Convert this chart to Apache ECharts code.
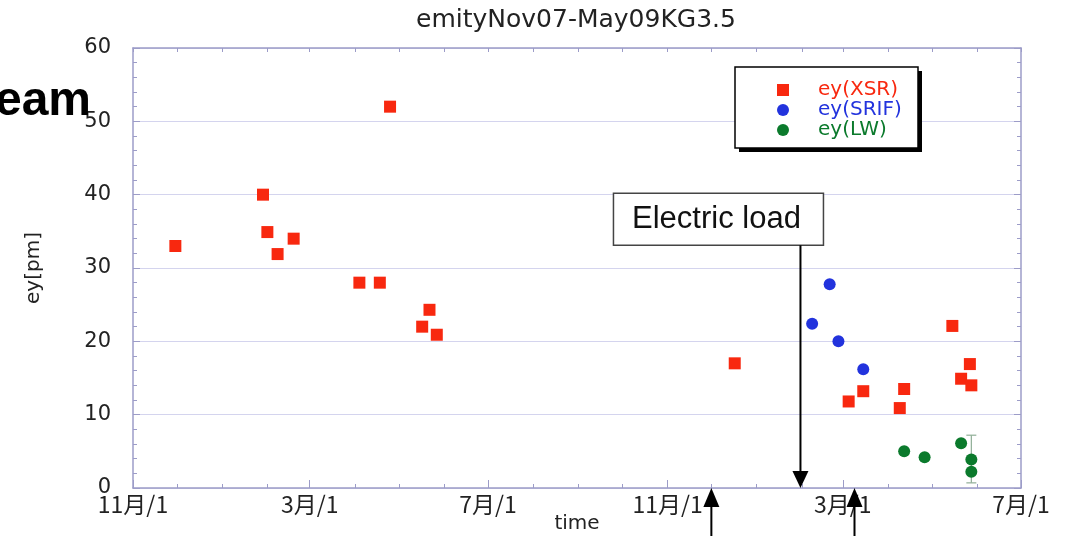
<!DOCTYPE html>
<html><head><meta charset="utf-8">
<script src="https://cdn.jsdelivr.net/npm/echarts@6/dist/echarts.min.js"></script>
<style>html,body{margin:0;padding:0;background:#fff}#c{width:1066px;height:536px}</style>
</head><body><div id="c"></div>
<script>
// ---- data ----
const titleText = 'emityNov07-May09KG3.5';
const xsrDates = ['2007-11-30','2008-01-29','2008-02-01','2008-02-08','2008-02-19','2008-04-04','2008-04-18','2008-04-25','2008-05-17','2008-05-22','2008-05-27','2008-12-17','2009-03-05','2009-03-15','2009-04-09','2009-04-12','2009-05-15','2009-05-21','2009-05-27','2009-05-28'];
const xsrValues = [33.0,40.0,34.9,31.9,34.0,28.0,28.0,52.0,22.0,24.3,20.9,17.0,11.8,13.2,10.9,13.5,22.1,14.9,16.9,14.0];
const srifDates = ['2009-02-08','2009-02-20','2009-02-26','2009-03-15'];
const srifValues = [22.4,27.8,20.0,16.2];
const lwDates = ['2009-04-12','2009-04-26','2009-05-21','2009-05-28','2009-05-28'];
const lwValues = [5.0,4.2,6.1,3.9,2.2];
const lwErrDate = ['2009-05-28'];
const lwErrLow = [0.7];
const lwErrHigh = [7.2];
const xTickDates = ['2007-11-01','2008-03-01','2008-07-01','2008-11-01','2009-03-01','2009-07-01'];
const xTickLabels = ['11月/1','3月/1','7月/1','11月/1','3月/1','7月/1'];
const yTicks = [0,10,20,30,40,50,60];
const seriesNames = ['ey(XSR)','ey(SRIF)','ey(LW)'];
const electricLoadDate = '2009-01-31';
const upArrowDates = ['2008-12-01','2009-03-09'];

// ---- helpers ----
function ts(s){const p=s.split('-').map(Number);return new Date(p[0],p[1]-1,p[2]).getTime();}
const xMin = ts(xTickDates[0]), xMax = ts(xTickDates[xTickDates.length-1]);
const labelTs = xTickDates.map(ts);
const monthTs = [];
for(let d=new Date(2007,10,1); d.getTime()<=xMax; d=new Date(d.getFullYear(), d.getMonth()+1, 1)) monthTs.push(d.getTime());

const RED='#f8280f', BLUE='#2233dd', GREEN='#0b7a2c';
const AX='#9c9cc8';
const chart = echarts.init(document.getElementById('c'), null, {renderer:'canvas'});

const axCommonX = {type:'value', min:xMin, max:xMax, scale:true, splitLine:{show:false}, axisPointer:{show:false}};
const option = {
  animation:false,
  backgroundColor:'#fff',
  title:{text:titleText, left:416, top:8, padding:0,
    textStyle:{fontSize:25, fontWeight:'normal', color:'#222', fontFamily:'DejaVu Sans'}},
  grid:{left:133, right:45, top:48, bottom:48, containLabel:false, outerBoundsMode:'none'},
  legend:{
    orient:'vertical', left:735, top:67, padding:[13,16,16,42], itemGap:0,
    itemWidth:12, itemHeight:12, z:5,
    selectedMode:false,
    textStyle:{fontSize:20, fontFamily:'DejaVu Sans', lineHeight:17, padding:[0,0,0,24]},
    data:[
      {name:seriesNames[0], textStyle:{color:RED}},
      {name:seriesNames[1], textStyle:{color:BLUE}},
      {name:seriesNames[2], textStyle:{color:GREEN}}
    ]
  },
  xAxis:[
    Object.assign({}, axCommonX, {position:'bottom',
      axisLine:{show:true, onZero:false, lineStyle:{color:AX, width:1.5}},
      axisTick:{show:true, inside:true, length:8, customValues:labelTs, lineStyle:{color:AX}},
      axisLabel:{show:true, customValues:labelTs, margin:5, fontSize:23, color:'#222', fontFamily:'Noto Sans CJK JP',
        formatter:function(v){const i=labelTs.indexOf(v); return i>=0?xTickLabels[i]:'';}},
      name:'time', nameLocation:'middle', nameGap:26, nameMoveOverlap:false,
      nameTextStyle:{fontSize:20, color:'#222', fontFamily:'DejaVu Sans'}}),
    Object.assign({}, axCommonX, {position:'bottom',
      axisLine:{show:false, onZero:false},
      axisTick:{show:true, inside:true, length:4, customValues:monthTs, lineStyle:{color:AX}},
      axisLabel:{show:false}}),
    Object.assign({}, axCommonX, {position:'top',
      axisLine:{show:true, onZero:false, lineStyle:{color:AX, width:1.5}},
      axisTick:{show:true, inside:true, length:4, customValues:monthTs, lineStyle:{color:AX}},
      axisLabel:{show:false}})
  ],
  yAxis:[
    {type:'value', min:yTicks[0], max:yTicks[yTicks.length-1], interval:10, position:'left',
      axisLine:{show:true, onZero:false, lineStyle:{color:AX, width:1.5}},
      axisTick:{show:true, inside:true, length:7, lineStyle:{color:AX}},
      minorTick:{show:true, splitNumber:5, length:4, lineStyle:{color:AX}},
      splitLine:{show:true, lineStyle:{color:'#d4d4ee', width:1}},
      axisLabel:{margin:22, fontSize:21, color:'#222', fontFamily:'DejaVu Sans'},
      name:'ey[pm]', nameLocation:'middle', nameGap:89, nameRotate:90, nameMoveOverlap:false,
      nameTextStyle:{fontSize:20, color:'#222', fontFamily:'DejaVu Sans'}},
    {type:'value', min:yTicks[0], max:yTicks[yTicks.length-1], interval:10, position:'right',
      axisLine:{show:true, onZero:false, lineStyle:{color:AX, width:1.5}},
      axisTick:{show:true, inside:true, length:7, lineStyle:{color:AX}},
      minorTick:{show:true, splitNumber:5, length:4, lineStyle:{color:AX}},
      splitLine:{show:false}, axisLabel:{show:false}}
  ],
  series:[
    {name:seriesNames[0], type:'scatter', symbol:'rect', symbolSize:12, itemStyle:{color:RED, opacity:1},
      data:xsrDates.map((d,i)=>[ts(d), xsrValues[i]]), z:3},
    {name:seriesNames[1], type:'scatter', symbol:'circle', symbolSize:12, itemStyle:{color:BLUE, opacity:1},
      data:srifDates.map((d,i)=>[ts(d), srifValues[i]]), z:3},
    {name:seriesNames[2], type:'scatter', symbol:'circle', symbolSize:12, itemStyle:{color:GREEN, opacity:1},
      data:lwDates.map((d,i)=>[ts(d), lwValues[i]]), z:3},
    {type:'custom', z:2, silent:true,
      data:lwErrDate.map((d,i)=>[ts(d), lwErrLow[i], lwErrHigh[i]]),
      renderItem:function(params, api){
        const lo=api.coord([api.value(0), api.value(1)]);
        const hi=api.coord([api.value(0), api.value(2)]);
        const st={stroke:'#8fae96', lineWidth:1.2};
        return {type:'group', children:[
          {type:'line', shape:{x1:lo[0],y1:lo[1],x2:hi[0],y2:hi[1]}, style:st},
          {type:'line', shape:{x1:hi[0]-5,y1:hi[1],x2:hi[0]+5,y2:hi[1]}, style:st},
          {type:'line', shape:{x1:lo[0]-5,y1:lo[1],x2:lo[0]+5,y2:lo[1]}, style:st}
        ]};
      }}
  ]
};
chart.setOption(option);

// ---- annotations positioned through the axes ----
const P = (d,v)=>chart.convertToPixel({seriesIndex:0}, [ts(d), v]);
const down = P(electricLoadDate, 0);
const boxTop = P(electricLoadDate, 40.2)[1], boxBot = P(electricLoadDate, 33.1)[1];
const g = [];
// legend frame with hard drop shadow
g.push({type:'rect', z:1, shape:{x:739, y:71, width:183, height:81}, style:{fill:'#000'}});
g.push({type:'rect', z:2, shape:{x:735, y:67, width:183, height:81}, style:{fill:'#fff', stroke:'#000', lineWidth:1.5}});
g.push({type:'text', x:91, y:126, z:10,
  style:{text:'eam', fontSize:48, fontWeight:'bold', fontFamily:'Liberation Sans', fill:'#000', textAlign:'right', textVerticalAlign:'bottom'}});
g.push({type:'rect', z:10, shape:{x:down[0]-187, y:boxTop, width:210, height:boxBot-boxTop},
  style:{fill:'#fff', stroke:'#444', lineWidth:1.5}});
g.push({type:'text', z:11, x:down[0]-84, y:(boxTop+boxBot)/2,
  style:{text:'Electric load', fontSize:31, fontFamily:'Liberation Sans', fill:'#111', textAlign:'center', textVerticalAlign:'middle'}});
g.push({type:'line', z:10, shape:{x1:down[0], y1:boxBot, x2:down[0], y2:down[1]-14}, style:{stroke:'#000', lineWidth:2}});
g.push({type:'polygon', z:10, shape:{points:[[down[0]-8,down[1]-17],[down[0]+8,down[1]-17],[down[0],down[1]]]}, style:{fill:'#000'}});
upArrowDates.forEach(d=>{
  const u = P(d, 0);
  g.push({type:'line', z:10, shape:{x1:u[0], y1:540, x2:u[0], y2:u[1]+14}, style:{stroke:'#000', lineWidth:2}});
  g.push({type:'polygon', z:10, shape:{points:[[u[0]-8,u[1]+19],[u[0]+8,u[1]+19],[u[0],u[1]]]}, style:{fill:'#000'}});
});
chart.setOption({graphic:{elements:g}});
</script>
</body></html>
